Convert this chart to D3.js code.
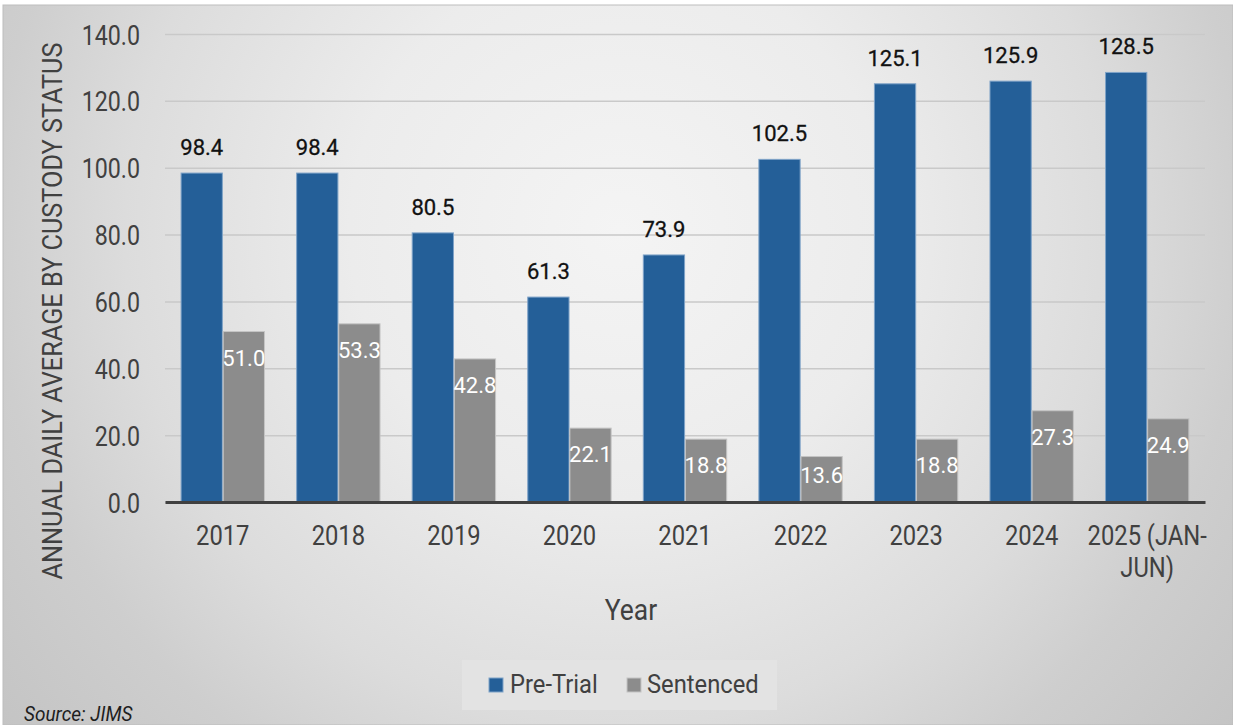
<!DOCTYPE html>
<html>
<head>
<meta charset="utf-8">
<script src="https://cdn.jsdelivr.net/npm/d3@7"></script>
<style>
  html, body { margin: 0; padding: 0; background: #ffffff; }
  svg { display: block; font-family: Roboto, "Liberation Sans", sans-serif; }
</style>
</head>
<body>
<svg id="chart" width="1233" height="725"></svg>
<script>
// Average daily jail population by custody status
const years = ["2017", "2018", "2019", "2020", "2021", "2022", "2023", "2024", "2025 (JAN-JUN)"];
const seriesNames = ["Pre-Trial", "Sentenced"];
const preTrial = [98.4, 98.4, 80.5, 61.3, 73.9, 102.5, 125.1, 125.9, 128.5];
const sentenced = [51.0, 53.3, 42.8, 22.1, 18.8, 13.6, 18.8, 27.3, 24.9];
const yTicks = [0, 20, 40, 60, 80, 100, 120, 140];
const colors = { "Pre-Trial": "#245f98", "Sentenced": "#8c8c8c" };

const rows = years.map((yr, i) => ({ year: yr, "Pre-Trial": preTrial[i], "Sentenced": sentenced[i] }));

const W = 1233, H = 725;
const plot = { left: 165, right: 1205, top: 34, bottom: 502 };

const svg = d3.select("#chart");

// Narrow the glyphs of a text element horizontally around its own x anchor
function condense(sel, k) {
  sel.each(function () {
    const t = d3.select(this);
    const x = +t.attr("x") || 0;
    t.attr("transform", `translate(${x},0) scale(${k},1) translate(${-x},0)`);
  });
}

// Background panel with soft radial shading
const defs = svg.append("defs");
const grad = defs.append("radialGradient")
  .attr("id", "bg")
  .attr("gradientUnits", "userSpaceOnUse")
  .attr("cx", 620).attr("cy", 230).attr("r", 900);
[[0, "#f4f4f4"], [0.3, "#ececec"], [0.55, "#dcdcdc"], [0.7, "#cecece"], [0.9, "#c3c3c3"]]
  .forEach(([o, c]) => grad.append("stop").attr("offset", o).attr("stop-color", c));

svg.append("rect")
  .attr("x", 3).attr("y", 5).attr("width", W - 3).attr("height", H - 5)
  .attr("fill", "url(#bg)")
  .attr("stroke", "#bdbdbd").attr("stroke-width", 1);

// Scales
const x0 = d3.scaleBand().domain(years).range([plot.left, plot.right]).paddingInner(0.264).paddingOuter(0.132);
const x1 = d3.scaleBand().domain(seriesNames).range([0, x0.bandwidth()]).padding(0.02);
const y = d3.scaleLinear().domain([0, 140]).range([plot.bottom, plot.top]);

// Y axis with gridlines
const yAxisG = svg.append("g")
  .attr("transform", `translate(${plot.left},0)`)
  .call(d3.axisLeft(y).tickValues(yTicks).tickFormat(d3.format(".1f"))
    .tickSize(-(plot.right - plot.left)).tickPadding(25));
yAxisG.select(".domain").remove();
yAxisG.selectAll(".tick line").attr("stroke", "#c9c9c9").attr("stroke-width", 1.5);
yAxisG.selectAll(".tick text")
  .attr("fill", "#404040")
  .attr("font-size", 28)
  .attr("font-family", "Roboto, sans-serif")
  .attr("dy", "0.36em")
  .call(condense, 0.83);

// Bars
const groups = svg.append("g").selectAll("g")
  .data(rows)
  .join("g")
  .attr("transform", d => `translate(${x0(d.year)},0)`);

groups.selectAll("rect")
  .data(d => seriesNames.map(s => ({ key: s, value: d[s] })))
  .join("rect")
  .attr("x", d => x1(d.key))
  .attr("y", d => y(d.value))
  .attr("width", x1.bandwidth())
  .attr("height", d => y(0) - y(d.value))
  .attr("fill", d => colors[d.key])
  .attr("stroke", d => d.key === "Pre-Trial" ? "#7fa3c8" : "#c4c4c4")
  .attr("stroke-width", 1);

// X axis
const xFont = 27;
const xCondense = 0.88;
const xLineHeight = 32;
const xAxisG = svg.append("g")
  .attr("transform", `translate(0,${plot.bottom})`)
  .call(d3.axisBottom(x0).tickSize(0).tickSizeOuter(0).tickPadding(24));
xAxisG.select(".domain").attr("stroke", "#404040").attr("stroke-width", 3);
xAxisG.selectAll(".tick text")
  .attr("fill", "#404040")
  .attr("font-size", xFont)
  .attr("font-family", "Roboto, sans-serif")
  .each(function (d) {
    // Wrap long category names onto extra lines (break after spaces or hyphens)
    const t = d3.select(this);
    const tokens = d.match(/[^\s-]+-?/g);
    const maxW = x0.step() * 1.05 / xCondense;
    const lines = [];
    let cur = "";
    tokens.forEach(tok => {
      const trial = cur === "" ? tok : (cur.endsWith("-") ? cur + tok : cur + " " + tok);
      t.text(trial);
      if (cur !== "" && this.getComputedTextLength() > maxW) {
        lines.push(cur);
        cur = tok;
      } else {
        cur = trial;
      }
    });
    lines.push(cur);
    t.text(lines[0]);
    const parent = d3.select(this.parentNode);
    lines.slice(1).forEach((ln, i) => {
      parent.append("text")
        .attr("fill", "#404040")
        .attr("font-size", xFont)
        .attr("font-family", "Roboto, sans-serif")
        .attr("y", +t.attr("y") + xLineHeight * (i + 1))
        .attr("dy", t.attr("dy"))
        .text(ln)
        .call(condense, xCondense);
    });
  })
  .call(condense, xCondense);

// Value labels
groups.append("text")
  .attr("x", x1("Pre-Trial") + x1.bandwidth() / 2)
  .attr("y", d => y(d["Pre-Trial"]) - 18)
  .attr("text-anchor", "middle")
  .attr("font-size", 22)
  .attr("fill", "#111111")
  .attr("stroke", "#111111")
  .attr("stroke-width", 0.3)
  .text(d => d["Pre-Trial"].toFixed(1));

groups.append("text")
  .attr("x", x1("Sentenced") + x1.bandwidth() / 2)
  .attr("y", d => Math.min(y(d["Sentenced"]) + 34, y(0) - 19))
  .attr("text-anchor", "middle")
  .attr("font-size", 22)
  .attr("fill", "#ffffff")
  .text(d => d["Sentenced"].toFixed(1));

// Axis titles
svg.append("text")
  .attr("transform", "translate(62,311) rotate(-90)")
  .attr("text-anchor", "middle")
  .attr("font-size", 27)
  .attr("fill", "#404040")
  .attr("textLength", 537)
  .attr("lengthAdjust", "spacingAndGlyphs")
  .text("ANNUAL DAILY AVERAGE BY CUSTODY STATUS");

svg.append("text")
  .attr("x", 631).attr("y", 620)
  .attr("text-anchor", "middle")
  .attr("font-size", 30)
  .attr("fill", "#404040")
  .text("Year")
  .call(condense, 0.88);

// Legend
const legend = svg.append("g");
legend.append("rect")
  .attr("x", 462).attr("y", 660).attr("width", 315).attr("height", 50)
  .attr("fill", "#e3e3e3");
const legendPos = [{ sq: 489, tx: 510 }, { sq: 627, tx: 647 }];
seriesNames.forEach((s, i) => {
  legend.append("rect")
    .attr("x", legendPos[i].sq).attr("y", 678).attr("width", 14).attr("height", 14)
    .attr("fill", colors[s])
    .attr("stroke", s === "Pre-Trial" ? "#7fa3c8" : "#c4c4c4").attr("stroke-width", 1);
  legend.append("text")
    .attr("x", legendPos[i].tx).attr("y", 693)
    .attr("font-size", 25)
    .attr("fill", "#404040")
    .text(s)
    .call(condense, 0.95);
});

// Source note
svg.append("text")
  .attr("x", 24).attr("y", 721)
  .attr("font-size", 20)
  .attr("font-style", "italic")
  .attr("fill", "#1e1e1e")
  .text("Source: JIMS")
  .call(condense, 0.95);
</script>
</body>
</html>
